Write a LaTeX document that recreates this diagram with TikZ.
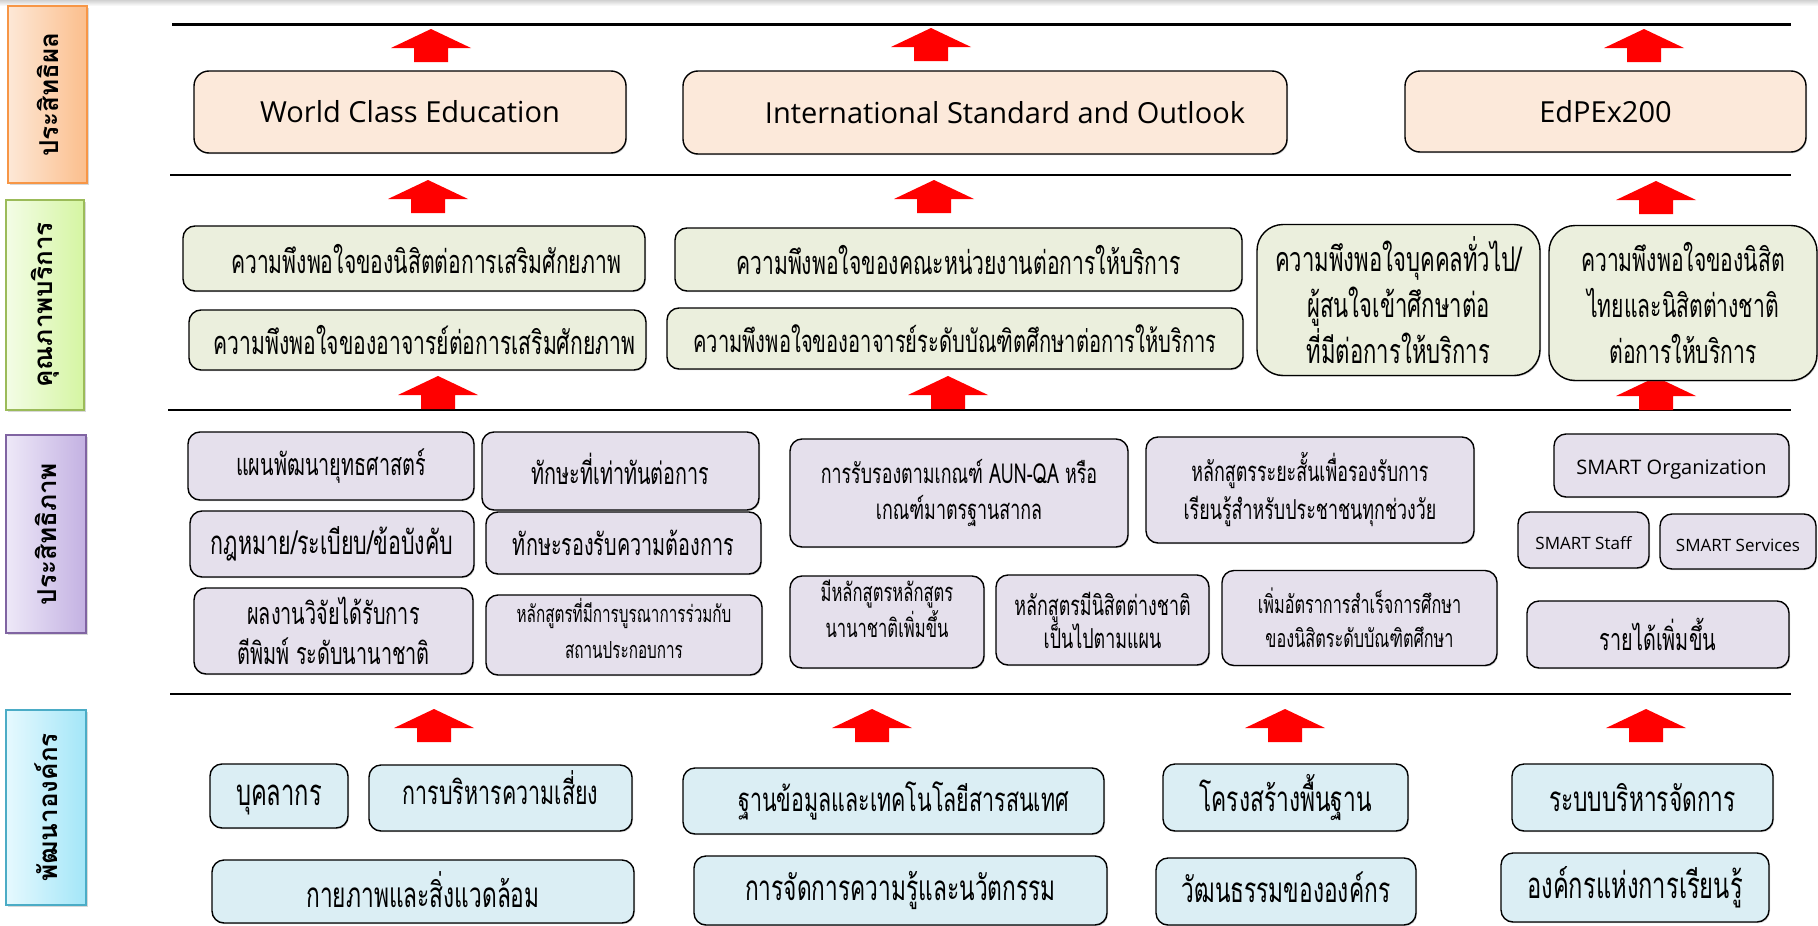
\documentclass[tikz,border=0pt]{standalone}
\usepackage{fontspec}
\usetikzlibrary{shadows}
\newfontfamily\thai[Script=Thai,FakeStretch=0.65]{Loma}
\newfontfamily\thaiside[Script=Thai]{Loma}
\newfontfamily\lat{Open Sans}
\newcommand\thsz[2]{\thai\fontsize{#1}{#2}\selectfont}
\newcommand\upby[2]{\raisebox{#1}[\height][\depth]{#2}}
\definecolor{cPeach}{HTML}{FCE9DA}
\definecolor{cGreen}{HTML}{EBEFDD}
\definecolor{cPurple}{HTML}{E5E0EC}
\definecolor{cBlue}{HTML}{DBEEF4}
\definecolor{arrred}{HTML}{FF0000}
\definecolor{oL}{HTML}{FDE8D7}\definecolor{oR}{HTML}{FBBE8C}\definecolor{oB}{HTML}{F79646}
\definecolor{gL}{HTML}{F3FDE6}\definecolor{gR}{HTML}{D5F5A2}\definecolor{gB}{HTML}{9BBB59}
\definecolor{vL}{HTML}{EEE9F8}\definecolor{vR}{HTML}{C3B1E2}\definecolor{vB}{HTML}{8064A2}
\definecolor{cL}{HTML}{E6F9FE}\definecolor{cR}{HTML}{A3E6F8}\definecolor{cB}{HTML}{4BACC6}
\tikzset{
  rbox/.style={draw=black, line width=1.4pt, rounded corners=12pt, inner sep=0pt, align=center,
    drop shadow={shadow xshift=1pt, shadow yshift=-1.2pt, opacity=0.35}},
  peachbox/.style={rbox, fill=cPeach, rounded corners=15pt, font=\lat\fontsize{29}{32}\selectfont},
  greenbox/.style={rbox, fill=cGreen, font=\thsz{32.5}{46}},
  purplebox/.style={rbox, fill=cPurple, font=\thsz{30.5}{40}},
  latpurple/.style={rbox, fill=cPurple, font=\lat\fontsize{20}{23}\selectfont},
  bluebox/.style={rbox, fill=cBlue, font=\thsz{35}{40}},
  sidebox/.style={line width=1.6pt, inner sep=0pt, font=\thaiside\bfseries\fontsize{26}{28}\selectfont,
    drop shadow={shadow xshift=1.5pt, shadow yshift=-2pt, opacity=0.3}},
  sepline/.style={line width=2.4pt, black},
  uparr/.pic={\fill[arrred] (0,0) -- (40,19) -- (17,19) -- (17,33) -- (-17,33) -- (-17,19) -- (-40,19) -- cycle;}
}
\begin{document}
\begin{tikzpicture}[x=1pt,y=-1pt]
\useasboundingbox (0,0) rectangle (1818,926);
\fill[white] (0,0) rectangle (1818,926);
\shade[top color=black!18, bottom color=white] (0,0) rectangle (1818,6);

% side labels
\node[sidebox, draw=oB, left color=oL, right color=oR, minimum width=79pt, minimum height=177pt] (l1) at (47.5,94.5) {\rotatebox{90}{ประสิทธิผล}};
\node[sidebox, draw=gB, left color=gL, right color=gR, minimum width=78pt, minimum height=210pt] (l2) at (45,305) {\rotatebox{90}{คุณภาพบริการ}};
\node[sidebox, draw=vB, left color=vL, right color=vR, minimum width=80pt, minimum height=198pt] (l3) at (46,534) {\rotatebox{90}{ประสิทธิภาพ}};
\node[sidebox, draw=cB, left color=cL, right color=cR, minimum width=80pt, minimum height=195pt] (l4) at (46,807.5) {\rotatebox{90}{พัฒนาองค์กร}};

% separators
\draw[sepline] (172,24.5) -- (1791,24.5);
\draw[sepline] (170,175) -- (1791,175);
\draw[sepline] (168,410) -- (1791,410);
\draw[sepline] (170,694) -- (1791,694);

% arrows
\pic at (431,29) {uparr};
\pic at (931,28) {uparr};
\pic at (1644,29) {uparr};
\pic at (428,180) {uparr};
\pic at (934,180) {uparr};
\pic at (1656,181) {uparr};
\pic at (438,376) {uparr};
\pic at (948,376) {uparr};
\pic at (1656,377) {uparr};
\pic at (434,709) {uparr};
\pic at (872,709) {uparr};
\pic at (1285,709) {uparr};
\pic at (1646,709) {uparr};

% row 1
\node[peachbox, minimum width=432pt, minimum height=82pt] (t1) at (410,112) {World Class Education};
\node[peachbox, minimum width=604pt, minimum height=83pt] (t2) at (985,112.5) {\hspace*{40pt}International Standard and Outlook};
\node[peachbox, minimum width=401pt, minimum height=81pt] (t3) at (1605.5,111.5) {EdPEx200};

% row 2
\node[greenbox, minimum width=462pt, minimum height=65pt] (s1) at (414,258.5) {\hspace*{24pt}ความพึงพอใจของนิสิตต่อการเสริมศักยภาพ};
\node[greenbox, minimum width=457pt, minimum height=60pt] (s2) at (417.5,340) {\hspace*{14pt}ความพึงพอใจของอาจารย์ต่อการเสริมศักยภาพ};
\node[greenbox, minimum width=567pt, minimum height=63pt] (s3) at (958.5,259.5) {ความพึงพอใจของคณะหน่วยงานต่อการให้บริการ};
\node[greenbox, font=\thsz{31}{46}, minimum width=576pt, minimum height=61pt] (s4) at (955,338.5) {ความพึงพอใจของอาจารย์ระดับบัณฑิตศึกษาต่อการให้บริการ};
\node[greenbox, font=\thsz{34}{46}, rounded corners=26pt, minimum width=283pt, minimum height=151pt] (s5) at (1398.5,300) {ความพึงพอใจบุคคลทั่วไป/\\ผู้สนใจเข้าศึกษาต่อ\\ที่มีต่อการให้บริการ};
\node[greenbox, rounded corners=26pt, minimum width=268pt, minimum height=155pt] (s6) at (1683,303) {ความพึงพอใจของนิสิต\\ไทยและนิสิตต่างชาติ\\ต่อการให้บริการ};

% row 3
\node[purplebox, minimum width=286pt, minimum height=68pt] (p1) at (331,466) {แผนพัฒนายุทธศาสตร์};
\node[purplebox, minimum width=277pt, minimum height=78pt] (p2) at (620.5,471) {\upby{2pt}{ทักษะที่เท่าทันต่อการ}};
\node[purplebox, font=\thsz{33}{40}, minimum width=284pt, minimum height=66pt] (p3) at (332,544) {กฎหมาย/ระเบียบ/ข้อบังคับ};
\node[purplebox, minimum width=275pt, minimum height=62pt] (p4) at (623.5,543) {ทักษะรองรับความต้องการ};
\node[purplebox, minimum width=279pt, minimum height=86pt] (p5) at (333.5,631) {ผลงานวิจัยได้รับการ\\ตีพิมพ์ ระดับนานาชาติ};
\node[purplebox, font=\thsz{23.5}{36}, minimum width=276pt, minimum height=80pt] (p6) at (624,635) {\upby{2pt}{\begin{tabular}{@{}c@{}}หลักสูตรที่มีการบูรณาการร่วมกับ\\สถานประกอบการ\end{tabular}}};
\node[purplebox, font=\thsz{27.5}{36}, minimum width=338pt, minimum height=108pt] (p7) at (959,493) {การรับรองตามเกณฑ์ AUN-QA หรือ\\เกณฑ์มาตรฐานสากล};
\node[purplebox, font=\thsz{27.5}{38}, minimum width=328pt, minimum height=106pt] (p8) at (1310,490) {หลักสูตรระยะสั้นเพื่อรองรับการ\\เรียนรู้สำหรับประชาชนทุกช่วงวัย};
\node[purplebox, font=\thsz{25.5}{31}, minimum width=194pt, minimum height=92pt] (p9) at (887,622) {\upby{9pt}{\begin{tabular}{@{}c@{}}มีหลักสูตรหลักสูตร\\นานาชาติเพิ่มขึ้น\end{tabular}}};
\node[purplebox, font=\thsz{27.5}{33}, minimum width=213pt, minimum height=90pt] (p10) at (1102.5,620) {หลักสูตรมีนิสิตต่างชาติ\\เป็นไปตามแผน};
\node[purplebox, font=\thsz{25}{34}, minimum width=275pt, minimum height=95pt] (p11) at (1359.5,618) {เพิ่มอัตราการสำเร็จการศึกษา\\ของนิสิตระดับบัณฑิตศึกษา};
\node[latpurple, minimum width=235pt, minimum height=63pt] (p12) at (1671.5,465.5) {\upby{-4pt}{SMART Organization}};
\node[latpurple, font=\lat\fontsize{17}{20}\selectfont, minimum width=131pt, minimum height=56pt] (p13) at (1583.5,540) {\upby{-3.5pt}{SMART Staff}};
\node[latpurple, font=\lat\fontsize{17}{20}\selectfont, minimum width=156pt, minimum height=55pt] (p14) at (1738,541.5) {\upby{-3.5pt}{SMART Services}};
\node[purplebox, minimum width=262pt, minimum height=67pt] (p15) at (1658,634.5) {รายได้เพิ่มขึ้น};

% row 4
\node[bluebox, font=\thsz{36.5}{40}, minimum width=138pt, minimum height=64pt] (b1) at (279,796) {\upby{-4pt}{บุคลากร}};
\node[bluebox, font=\thsz{33}{40}, minimum width=263pt, minimum height=66pt] (b2) at (500.5,798) {\upby{10pt}{การบริหารความเสี่ยง}};
\node[bluebox, minimum width=422pt, minimum height=63pt] (b3) at (423,891.5) {\upby{2pt}{กายภาพและสิ่งแวดล้อม}};
\node[bluebox, font=\thsz{33}{40}, minimum width=421pt, minimum height=66pt] (b4) at (893.5,801) {\hspace*{20pt}ฐานข้อมูลและเทคโนโลยีสารสนเทศ};
\node[bluebox, minimum width=413pt, minimum height=69pt] (b5) at (900.5,890.5) {การจัดการความรู้และนวัตกรรม};
\node[bluebox, minimum width=245pt, minimum height=67pt] (b6) at (1285.5,797.5) {โครงสร้างพื้นฐาน};
\node[bluebox, minimum width=260pt, minimum height=67pt] (b7) at (1286,891.5) {\upby{4pt}{วัฒนธรรมขององค์กร}};
\node[bluebox, minimum width=261pt, minimum height=67pt] (b8) at (1642.5,797.5) {ระบบบริหารจัดการ};
\node[bluebox, font=\thsz{36.5}{40}, minimum width=268pt, minimum height=69pt] (b9) at (1635,887.5) {องค์กรแห่งการเรียนรู้};
\end{tikzpicture}
\end{document}
